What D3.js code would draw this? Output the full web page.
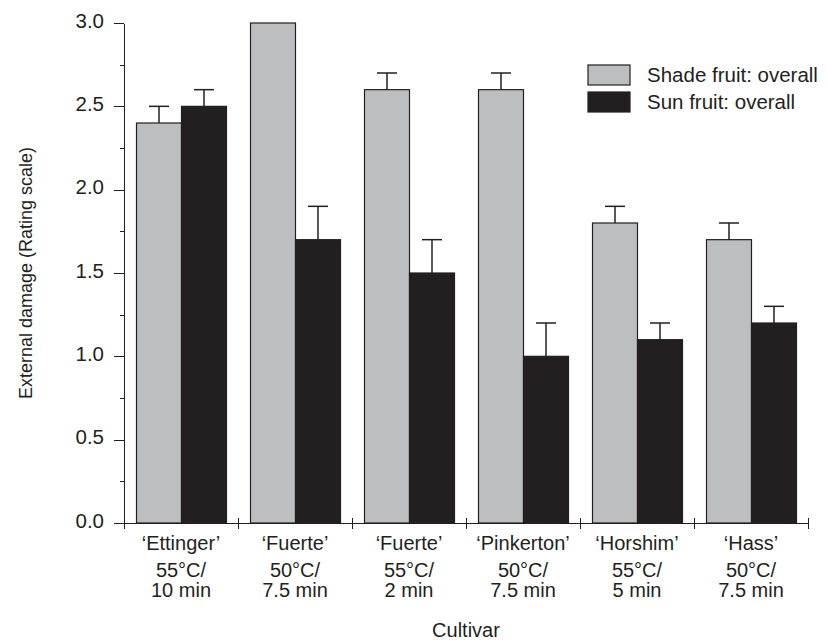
<!DOCTYPE html>
<html lang="en">
  <head>
      <meta charset="utf-8">
      <title>External damage by cultivar</title>
      <script type="text/javascript" src="https://d3js.org/d3.v7.min.js"></script>
      <style type="text/css">
            body {
              margin: 0;
              background: #fff;
            }
            text {
              font-family: "Liberation Sans", Arial, Helvetica, sans-serif;
              fill: #231f20;
            }
            .axis path,
            .axis line {
                stroke: #231f20;
                stroke-width: 1.2;
                shape-rendering: crispEdges;
            }
            .axis text {
              font-size: 20.5px;
            }
      </style>
  </head>
  <body>
      <script type="text/javascript">
        // data
        var cultivars = ["\u2018Ettinger\u2019", "\u2018Fuerte\u2019", "\u2018Fuerte\u2019", "\u2018Pinkerton\u2019", "\u2018Horshim\u2019", "\u2018Hass\u2019"];
        var temps = ["55\u00b0C/", "50\u00b0C/", "55\u00b0C/", "50\u00b0C/", "55\u00b0C/", "50\u00b0C/"];
        var times = ["10 min", "7.5 min", "2 min", "7.5 min", "5 min", "7.5 min"];
        var shadeValues = [2.4, 3.0, 2.6, 2.6, 1.8, 1.7];
        var shadeErrors = [0.1, 0, 0.1, 0.1, 0.1, 0.1];
        var sunValues = [2.5, 1.7, 1.5, 1.0, 1.1, 1.2];
        var sunErrors = [0.1, 0.2, 0.2, 0.2, 0.1, 0.1];
        var seriesNames = ["Shade fruit: overall", "Sun fruit: overall"];
        var yTicks = [0, 0.5, 1.0, 1.5, 2.0, 2.5, 3.0];
        var yMinorTicks = [0.25, 0.75, 1.25, 1.75, 2.25, 2.75];

        var w = 828;
        var h = 641;
        var plotLeft = 124, plotRight = 808, plotTop = 23, plotBottom = 523;
        var colors = ["#bcbec0", "#231f20"];

        var groups = d3.range(cultivars.length);

        var dataset = [];
        groups.forEach(function(i) {
          dataset.push({group: i, series: 0, value: shadeValues[i], err: shadeErrors[i]});
          dataset.push({group: i, series: 1, value: sunValues[i], err: sunErrors[i]});
        });

        var xScale = d3.scaleBand()
                       .domain(groups)
                       .range([plotLeft, plotRight]);

        var x1 = d3.scaleBand()
                   .domain([0, 1])
                   .range([12.5, xScale.bandwidth() - 11.5]);

        var yScale = d3.scaleLinear()
                       .domain([0, 3])
                       .range([plotBottom, plotTop]);

        // tick positions on the band boundaries
        var edgeScale = d3.scaleLinear()
                          .domain([0, cultivars.length])
                          .range([plotLeft, plotRight]);

        var svg = d3.select("body")
              .append("svg")
              .attr("width", w)
              .attr("height", h);

        //bars
        svg.selectAll("rect.bar")
           .data(dataset)
           .enter()
           .append("rect")
           .attr("class", "bar")
           .attr("x", function(d) { return xScale(d.group) + x1(d.series); })
           .attr("y", function(d) { return yScale(d.value); })
           .attr("width", x1.bandwidth())
           .attr("height", function(d) { return yScale(0) - yScale(d.value); })
           .attr("fill", function(d) { return colors[d.series]; })
           .attr("stroke", "#231f20")
           .attr("stroke-width", 1.2);

        //error bars (upper only)
        var errs = svg.selectAll("g.err")
           .data(dataset.filter(function(d) { return d.err > 0; }))
           .enter()
           .append("g")
           .attr("class", "err")
           .attr("stroke", "#231f20")
           .attr("stroke-width", 1.5);

        errs.append("line")
            .attr("x1", function(d) { return xScale(d.group) + x1(d.series) + x1.bandwidth() / 2; })
            .attr("x2", function(d) { return xScale(d.group) + x1(d.series) + x1.bandwidth() / 2; })
            .attr("y1", function(d) { return yScale(d.value); })
            .attr("y2", function(d) { return yScale(d.value + d.err); });

        errs.append("line")
            .attr("x1", function(d) { return xScale(d.group) + x1(d.series) + x1.bandwidth() / 2 - 10; })
            .attr("x2", function(d) { return xScale(d.group) + x1(d.series) + x1.bandwidth() / 2 + 10; })
            .attr("y1", function(d) { return yScale(d.value + d.err); })
            .attr("y2", function(d) { return yScale(d.value + d.err); });

        //y axis
        var yAxis = d3.axisLeft(yScale)
                      .tickValues(yTicks)
                      .tickFormat(d3.format(".1f"))
                      .tickSize(10)
                      .tickPadding(10)
                      .tickSizeOuter(0);

        var gy = svg.append("g")
            .attr("class", "axis")
            .attr("transform", "translate(" + plotLeft + ",0)")
            .call(yAxis);
        gy.selectAll("text").attr("dy", "0.2em");

        var yMinor = d3.axisLeft(yScale)
                       .tickValues(yMinorTicks)
                       .tickFormat("")
                       .tickSize(4)
                       .tickSizeOuter(0);

        var gm = svg.append("g")
            .attr("class", "axis")
            .attr("transform", "translate(" + plotLeft + ",0)")
            .call(yMinor);
        gm.select(".domain").remove();

        //x axis
        var xAxis = d3.axisBottom(edgeScale)
                      .tickValues(d3.range(cultivars.length + 1))
                      .tickFormat("")
                      .tickSize(6)
                      .tickSizeOuter(0);

        var gx = svg.append("g")
            .attr("class", "axis")
            .attr("transform", "translate(0," + plotBottom + ")")
            .call(xAxis);
        gx.selectAll(".tick line").attr("y1", -5);

        // category labels, three lines each
        var labels = svg.selectAll("text.xlab")
            .data(groups)
            .enter()
            .append("text")
            .attr("class", "xlab")
            .attr("text-anchor", "middle")
            .style("font-size", "20px")
            .attr("transform", function(d) { return "translate(" + (xScale(d) + xScale.bandwidth() / 2) + ",0)"; });

        labels.append("tspan").attr("x", 0).attr("y", 550).text(function(d) { return cultivars[d]; });
        labels.append("tspan").attr("x", 0).attr("y", 577).text(function(d) { return temps[d]; });
        labels.append("tspan").attr("x", 0).attr("y", 597).text(function(d) { return times[d]; });

        // x axis title
        svg.append("text")
            .attr("x", (plotLeft + plotRight) / 2)
            .attr("y", 637)
            .attr("text-anchor", "middle")
            .style("font-size", "20px")
            .text("Cultivar");

        // y axis title
        svg.append("text")
            .attr("transform", "translate(32," + ((plotTop + plotBottom) / 2) + ") rotate(-90)")
            .attr("text-anchor", "middle")
            .style("font-size", "18px")
            .text("External damage (Rating scale)");

        //legend
        var legend = svg.selectAll("g.legend")
            .data(seriesNames)
            .enter()
            .append("g")
            .attr("class", "legend")
            .attr("transform", function(d, i) { return "translate(588," + (65 + i * 27) + ")"; });

        legend.append("rect")
            .attr("width", 42)
            .attr("height", 20)
            .attr("fill", function(d, i) { return colors[i]; })
            .attr("stroke", "#231f20")
            .attr("stroke-width", 1.2);

        legend.append("text")
            .attr("x", 59)
            .attr("y", 17)
            .style("font-size", "20.5px")
            .text(function(d) { return d; });
      </script>
  </body>
</html>
